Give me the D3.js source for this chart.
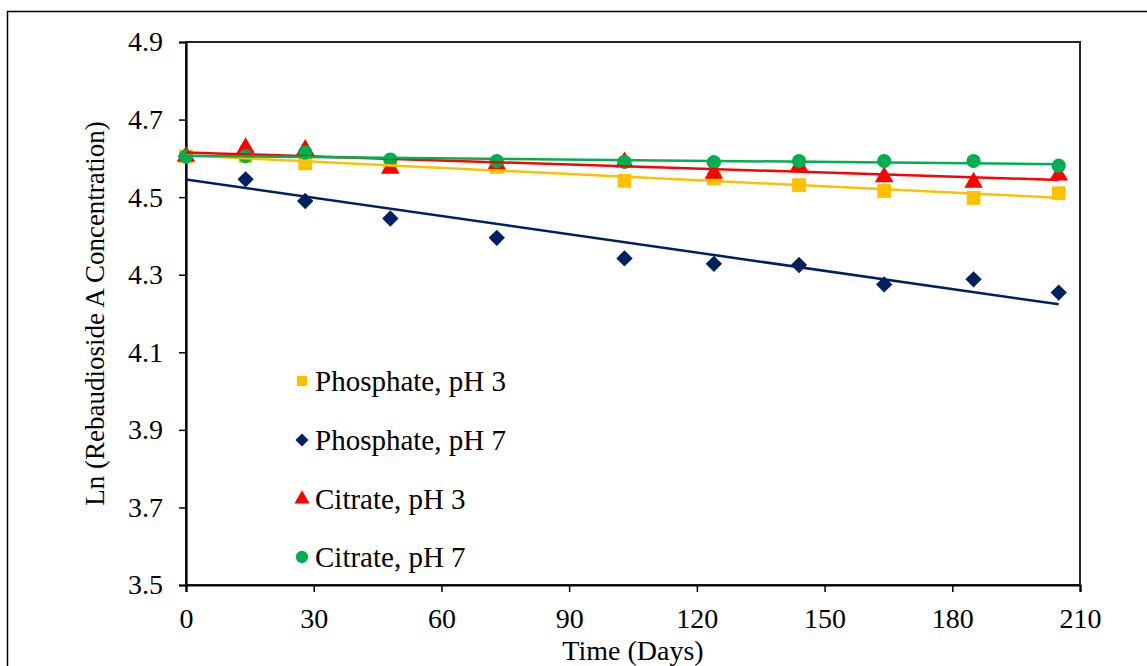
<!DOCTYPE html>
<html>
<head>
<meta charset="utf-8">
<script src="https://cdn.jsdelivr.net/npm/d3@7"></script>
<style>
  body { margin: 0; background: #fff; }
  svg { display: block; font-family: "Liberation Serif", "Times New Roman", serif; }
</style>
</head>
<body>
<svg id="chart"></svg>
<script>
// Sampling days
const days = [0, 14, 28, 48, 73, 103, 124, 144, 164, 185, 205];

// Ln(Reb A concentration) per series
const phosphate3 = [4.605, 4.606, 4.587, 4.583, 4.578, 4.542, 4.548, 4.531, 4.516, 4.498, 4.510];
const phosphate7 = [4.605, 4.546, 4.490, 4.445, 4.395, 4.342, 4.328, 4.325, 4.275, 4.288, 4.254];
const citrate3 = [4.605, 4.627, 4.622, 4.574, 4.585, 4.590, 4.561, 4.580, 4.552, 4.538, 4.557];
const citrate7 = [4.605, 4.606, 4.615, 4.597, 4.593, 4.591, 4.590, 4.593, 4.593, 4.593, 4.581];

const seriesNames = ["Phosphate, pH 3", "Phosphate, pH 7", "Citrate, pH 3", "Citrate, pH 7"];
const seriesColors = ["#FFC000", "#002060", "#FF0000", "#00B050"];
const seriesSymbols = [d3.symbolSquare, d3.symbolDiamond2, d3.symbolTriangle, d3.symbolCircle];

const xTicks = [0, 30, 60, 90, 120, 150, 180, 210];
const yTicks = [3.5, 3.7, 3.9, 4.1, 4.3, 4.5, 4.7, 4.9];

const W = 1147, H = 666;
const margin = { left: 186, right: 67, top: 42, bottom: 81 };

const svg = d3.select("#chart")
    .attr("width", W)
    .attr("height", H);

// outer frame (runs off the right/bottom edge like the screenshot)
svg.append("rect")
    .attr("x", 7.5).attr("y", 11.5)
    .attr("width", 1200).attr("height", 700)
    .attr("fill", "#fff")
    .attr("stroke", "#000")
    .attr("stroke-width", 1.5);

const x = d3.scaleLinear().domain([0, 210]).range([margin.left, W - margin.right]);
const y = d3.scaleLinear().domain([3.5, 4.9]).range([H - margin.bottom, margin.top]);

// plot area border (top/right)
svg.append("rect")
    .attr("x", x(0)).attr("y", y(4.9))
    .attr("width", x(210) - x(0)).attr("height", y(3.5) - y(4.9))
    .attr("fill", "none")
    .attr("stroke", "#262626")
    .attr("stroke-width", 2);

const xAxis = svg.append("g")
    .attr("transform", `translate(0,${y(3.5)})`)
    .call(d3.axisBottom(x).tickValues(xTicks).tickSize(7).tickPadding(16).tickFormat(d3.format("d")));

const yAxis = svg.append("g")
    .attr("transform", `translate(${x(0)},0)`)
    .call(d3.axisLeft(y).tickValues(yTicks).tickSize(7).tickPadding(16).tickFormat(d3.format(".1f")));

[xAxis, yAxis].forEach(g => {
    g.select(".domain").attr("stroke", "#000").attr("stroke-width", 2.2);
    g.selectAll(".tick line").attr("stroke", "#000").attr("stroke-width", 1.5);
    g.selectAll(".tick text")
        .attr("fill", "#000")
        .style("font-family", "'Liberation Serif', serif")
        .style("font-size", "28px");
});

svg.append("text")
    .attr("x", (x(0) + x(210)) / 2)
    .attr("y", 660)
    .attr("text-anchor", "middle")
    .style("font-size", "28px")
    .text("Time (Days)");

svg.append("text")
    .attr("transform", `translate(104,${(y(3.5) + y(4.9)) / 2}) rotate(-90)`)
    .attr("text-anchor", "middle")
    .style("font-size", "27px")
    .text("Ln (Rebaudioside A Concentration)");

const allSeries = [phosphate3, phosphate7, citrate3, citrate7].map((vals, i) => ({
    name: seriesNames[i],
    color: seriesColors[i],
    symbol: seriesSymbols[i],
    points: days.map((d, j) => ({ day: d, value: vals[j] }))
}));

// least squares trend line, like the spreadsheet's linear trendline
function fit(points) {
    const mx = d3.mean(points, p => p.day), my = d3.mean(points, p => p.value);
    const sxy = d3.sum(points, p => (p.day - mx) * (p.value - my));
    const sxx = d3.sum(points, p => (p.day - mx) ** 2);
    const slope = sxy / sxx;
    return d => my + slope * (d - mx);
}

const symbolSize = [190, 170, 150, 160];

allSeries.forEach((s, i) => {
    svg.append("g")
        .selectAll("path")
        .data(s.points)
        .join("path")
        .attr("transform", p => `translate(${x(p.day)},${y(p.value)})`)
        .attr("d", d3.symbol().type(s.symbol).size(symbolSize[i]))
        .attr("fill", s.color);
});

const line = d3.line().x(p => x(p[0])).y(p => y(p[1]));
allSeries.forEach(s => {
    const f = fit(s.points);
    const ends = d3.extent(days);
    svg.append("path")
        .attr("d", line(ends.map(d => [d, f(d)])))
        .attr("fill", "none")
        .attr("stroke", s.color)
        .attr("stroke-width", 2.5);
});

// legend
const legendY = [381, 440, 499, 557];
const legend = svg.append("g");
allSeries.forEach((s, i) => {
    legend.append("path")
        .attr("transform", `translate(302,${legendY[i]})`)
        .attr("d", d3.symbol().type(s.symbol).size([100, 110, 100, 120][i]))
        .attr("fill", s.color);
    legend.append("text")
        .attr("x", 315)
        .attr("y", legendY[i])
        .attr("dy", "0.35em")
        .style("font-size", "29px")
        .text(s.name);
});
</script>
</body>
</html>
